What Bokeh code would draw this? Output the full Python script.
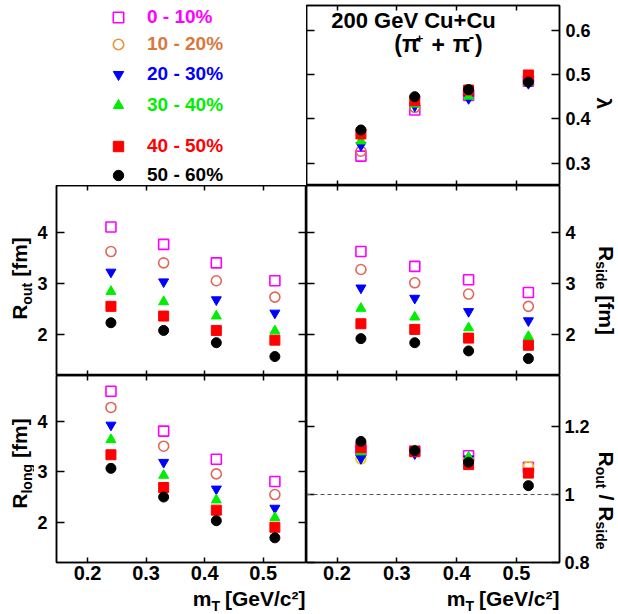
import math
from bokeh.plotting import figure
from bokeh.models import (Range1d, LinearAxis, FixedTicker, Label, Legend,
                          LegendItem, Span, CustomLabelingPolicy)
from bokeh.layouts import gridplot
from bokeh.embed import file_html
from bokeh.resources import INLINE

# ---------------- data ----------------
mt = [0.24, 0.33, 0.42, 0.52]
centrality = ["0 - 10%", "10 - 20%", "20 - 30%", "30 - 40%", "40 - 50%", "50 - 60%"]

lambda_0_10 = [0.316, 0.420, 0.453, 0.485]
lambda_10_20 = [0.327, 0.426, 0.455, 0.485]
lambda_20_30 = [0.340, 0.429, 0.446, 0.480]
lambda_30_40 = [0.350, 0.433, 0.451, 0.482]
lambda_40_50 = [0.366, 0.441, 0.465, 0.499]
lambda_50_60 = [0.375, 0.450, 0.466, 0.483]

rout_0_10 = [4.10, 3.76, 3.40, 3.05]
rout_10_20 = [3.62, 3.40, 3.05, 2.73]
rout_20_30 = [3.22, 3.03, 2.68, 2.42]
rout_30_40 = [2.84, 2.64, 2.36, 2.07]
rout_40_50 = [2.55, 2.36, 2.08, 1.89]
rout_50_60 = [2.23, 2.08, 1.84, 1.57]

rside_0_10 = [3.62, 3.33, 3.07, 2.82]
rside_10_20 = [3.27, 3.01, 2.79, 2.55]
rside_20_30 = [2.91, 2.71, 2.45, 2.27]
rside_30_40 = [2.51, 2.34, 2.13, 1.96]
rside_40_50 = [2.21, 2.10, 1.93, 1.79]
rside_50_60 = [1.92, 1.84, 1.68, 1.53]

rlong_0_10 = [4.60, 3.81, 3.25, 2.81]
rlong_10_20 = [4.28, 3.51, 2.96, 2.55]
rlong_20_30 = [3.93, 3.19, 2.66, 2.28]
rlong_30_40 = [3.64, 2.93, 2.44, 2.09]
rlong_40_50 = [3.34, 2.69, 2.24, 1.90]
rlong_50_60 = [3.07, 2.50, 2.03, 1.69]

ratio_0_10 = [1.130, 1.128, 1.114, 1.080]
ratio_10_20 = [1.105, 1.130, 1.100, 1.082]
ratio_20_30 = [1.106, 1.120, 1.105, 1.066]
ratio_30_40 = [1.125, 1.128, 1.110, 1.058]
ratio_40_50 = [1.138, 1.126, 1.088, 1.063]
ratio_50_60 = [1.156, 1.129, 1.095, 1.026]

x_ticks = [0.2, 0.3, 0.4, 0.5]
r_ticks = [2, 3, 4]
lambda_ticks = [0.3, 0.4, 0.5, 0.6]
ratio_ticks = [0.8, 1.0, 1.2]

lambda_series = [lambda_0_10, lambda_10_20, lambda_20_30, lambda_30_40, lambda_40_50, lambda_50_60]
rout_series = [rout_0_10, rout_10_20, rout_20_30, rout_30_40, rout_40_50, rout_50_60]
rside_series = [rside_0_10, rside_10_20, rside_20_30, rside_30_40, rside_40_50, rside_50_60]
rlong_series = [rlong_0_10, rlong_10_20, rlong_20_30, rlong_30_40, rlong_40_50, rlong_50_60]
ratio_series = [ratio_0_10, ratio_10_20, ratio_20_30, ratio_30_40, ratio_40_50, ratio_50_60]

# ---------------- styles ----------------
FONT = "Liberation Sans"
markers = ["square", "circle", "inverted_triangle", "triangle", "square", "circle"]
filled = [False, False, True, True, True, True]
colors = ["#ff00ff", "#e06858", "#0000ff", "#00ee00", "#ff0000", "#000000"]
ratio_colors = ["#ff00ff", "#e8d000", "#0000ff", "#00ee00", "#ff0000", "#000000"]
legend_marker_colors = ["#ff00ff", "#e8943c", "#0000ff", "#00ee00", "#ff0000", "#000000"]
legend_text_colors = ["#ff00ff", "#d8783c", "#0000ff", "#00ee00", "#ff0000", "#000000"]

CW = {'0': .556, '1': .556, '2': .556, '3': .556, '4': .556, '5': .556, '6': .556,
      '7': .556, '8': .556, '9': .556, '.': .278, ' ': .278, '-': .333, '%': .889,
      '[': .333, ']': .333, '/': .278, '(': .333, ')': .333, '+': .584, 'R': .722,
      'G': .778, 'V': .667, 'C': .722, 'T': .611, 'a': .556, 'c': .556, 'd': .611,
      'e': .556, 'f': .333, 'g': .611, 'i': .278, 'l': .278, 'm': .889, 'n': .611,
      'o': .611, 's': .556, 't': .333, 'u': .611, 'π': .58, 'λ': .56, '²': .333}


def text_w(s, size):
    return sum(CW.get(c, 0.6) for c in s) * size


def compose(p, pieces, x0, y0, angle, anchor="start", color="black"):
    """Lay text pieces along a baseline through (x0, y0).
    pieces: (text, font px, shift toward the text's 'down', gap before)."""
    total = sum(text_w(t, s) + g for t, s, _, g in pieces)
    pos = {"start": 0.0, "center": -total / 2, "end": -total}[anchor]
    ux, uy = math.cos(angle), math.sin(angle)
    dx, dy = math.sin(angle), -math.cos(angle)
    for t, s, sh, g in pieces:
        pos += g
        up = -0.35 * s          # middle of the caps sits above the baseline
        p.add_layout(Label(x=x0 + ux * pos + dx * (sh + up),
                           y=y0 + uy * pos + dy * (sh + up),
                           x_units="screen", y_units="screen", text=t, angle=angle,
                           text_font=FONT, text_font_size=f"{s}px",
                           text_font_style="bold", text_align="left",
                           text_baseline="middle", text_color=color))
        pos += text_w(t, s)


def add_axis(p, side, ticks, labels=False, size=18, standoff=6, tick_in=8,
             overrides=None):
    ax = LinearAxis(ticker=FixedTicker(ticks=ticks, minor_ticks=[]),
                    major_tick_in=tick_in, major_tick_out=0,
                    minor_tick_line_color=None, axis_line_width=1.5,
                    major_tick_line_width=1.5, major_label_text_font=FONT,
                    major_label_text_font_style="bold",
                    major_label_text_color="black")
    if labels:
        ax.major_label_text_font_size = f"{size}px"
        ax.major_label_standoff = standoff
    else:
        ax.major_label_text_font_size = "0px"
        ax.major_label_standoff = 0
        ax.major_label_policy = CustomLabelingPolicy(code="return new Set()")
    if overrides:
        ax.major_label_overrides = overrides
    p.add_layout(ax, side)
    return ax


def base(width, height, xr=(0, 1), yr=(0, 1), left=0, right=0, top=0, bottom=0,
         outline=None):
    p = figure(width=width, height=height, x_range=Range1d(*xr), y_range=Range1d(*yr),
               x_axis_location=None, y_axis_location=None, toolbar_location=None,
               output_backend="svg", min_border_left=left, min_border_right=right,
               min_border_top=top, min_border_bottom=bottom,
               outline_line_color=outline, outline_line_width=1.5,
               background_fill_color="white", border_fill_color="white")
    p.grid.visible = False
    return p


def draw(p, series, cols):
    for i, ys in enumerate(series):
        kw = dict(marker=markers[i], size=10, line_color=cols[i])
        if filled[i]:
            kw.update(fill_color=cols[i], line_width=1)
        else:
            kw.update(fill_color=None, line_width=1.6)
        p.scatter(mt, ys, **kw)


# grid geometry: 4 columns x 4 rows, borders kept equal along each row/column
W0, W1, W2, W3 = 34, 272, 287, 25
H0, H1, H2, H3 = 185, 190, 213, 25
BL, BR, BT, BB = 22, 33, 5, 26
XL = (0.147, 0.574)
XR = (0.149, 0.572)

# ---------------- legend panel (top-left) ----------------
A = base(W1, H0, left=BL, top=BT)
leg_bottoms = [155, 128, 98, 67, 26, -3]
for i, name in enumerate(centrality):
    kw = dict(marker=markers[i], size=10, line_color=legend_marker_colors[i])
    if filled[i]:
        kw.update(fill_color=legend_marker_colors[i], line_width=1)
    else:
        kw.update(fill_color=None, line_width=1.6)
    r = A.scatter(mt, lambda_series[i], visible=False, **kw)
    leg = Legend(items=[LegendItem(label=name, renderers=[r])],
                 location=(49, leg_bottoms[i]), glyph_width=26, glyph_height=26,
                 label_height=26, label_standoff=16, padding=0, margin=0, spacing=0,
                 border_line_color=None, background_fill_alpha=0,
                 inactive_fill_alpha=0, label_text_font=FONT,
                 label_text_font_size="19px", label_text_font_style="bold",
                 label_text_color=legend_text_colors[i])
    A.add_layout(leg)

# ---------------- lambda (top-right) ----------------
B = base(W2, H0, XR, (0.2497, 0.6557), right=BR, top=BT, outline="black")
add_axis(B, "below", x_ticks, tick_in=5)
add_axis(B, "above", x_ticks, tick_in=5)
add_axis(B, "left", lambda_ticks)
add_axis(B, "right", lambda_ticks, labels=True, size=18, standoff=6)
draw(B, lambda_series, colors)
compose(B, [("200 GeV Cu+Cu", 22, 0, 0)], 107, 157, 0, anchor="center")
compose(B, [("(π", 23, 0, 0), ("+", 13, -9, 0.5), ("+", 23, 0, 8),
            ("π", 23, 0, 8), ("-", 16, -11, 2.5), (")", 23, 0, 1)],
        132, 133, 0, anchor="center")

LB = base(W3, H0, top=BT)
compose(LB, [("λ", 21, 0, 0)], 4, 82, -math.pi / 2, anchor="center")

# ---------------- R_out (middle-left) ----------------
LC = base(W0, H1)
compose(LC, [("R", 21, 0, 0), ("out", 14, 5, 0), ("[fm]", 21, 0, 6)],
        26, 97, math.pi / 2, anchor="center")
C = base(W1, H1, XL, (1.2, 4.91), left=BL, outline="black")
add_axis(C, "below", x_ticks, tick_in=5)
add_axis(C, "above", x_ticks, tick_in=5)
add_axis(C, "right", r_ticks)
add_axis(C, "left", r_ticks, labels=True, size=18, standoff=9)
draw(C, rout_series, colors)

# ---------------- R_side (middle-right) ----------------
D = base(W2, H1, XR, (1.2, 4.91), right=BR, outline="black")
add_axis(D, "below", x_ticks, tick_in=5)
add_axis(D, "above", x_ticks, tick_in=5)
add_axis(D, "left", r_ticks)
add_axis(D, "right", r_ticks, labels=True, size=18, standoff=6)
draw(D, rside_series, colors)
LD = base(W3, H1)
compose(LD, [("R", 21, 0, 0), ("side", 14, 3.5, 0), ("[fm]", 21, 0, 6)],
        6, 85, -math.pi / 2, anchor="center")

# ---------------- R_long (bottom-left) ----------------
LE = base(W0, H2, bottom=BB)
compose(LE, [("R", 21, 0, 0), ("long", 14, 5, 0), ("[fm]", 21, 0, 6)],
        26, 99, math.pi / 2, anchor="center")
E = base(W1, H2, XL, (1.2, 4.914), left=BL, bottom=BB, outline="black")
add_axis(E, "above", x_ticks, tick_in=5)
add_axis(E, "right", r_ticks)
add_axis(E, "left", r_ticks, labels=True, size=18, standoff=9)
add_axis(E, "below", x_ticks, labels=True, size=20, standoff=3, tick_in=5)
draw(E, rlong_series, colors)

# ---------------- R_out / R_side (bottom-right) ----------------
F = base(W2, H2, XR, (0.8, 1.35), right=BR, bottom=BB, outline="black")
add_axis(F, "above", x_ticks, tick_in=5)
add_axis(F, "left", ratio_ticks)
add_axis(F, "right", ratio_ticks, labels=True, size=18, standoff=5,
         overrides={1.0: "1"})
add_axis(F, "below", x_ticks, labels=True, size=20, standoff=3, tick_in=5)
F.add_layout(Span(location=1.0, dimension="width", line_color="#555555",
                  line_width=1, line_dash="4 3"))
draw(F, ratio_series, ratio_colors)
LF = base(W3, H2, bottom=BB)
compose(LF, [("R", 21, 0, 0), ("out", 14, 3.5, 0), ("/", 21, 0, 6), ("R", 21, 0, 6),
             ("side", 14, 3.5, 0)], 6, 62, -math.pi / 2, anchor="center")

# ---------------- x-axis titles ----------------
XE = base(W1, H3, left=BL)
compose(XE, [("m", 21, 0, 0), ("T", 14, 5, 0), ("[GeV/c²]", 21, 0, 5)],
        249, 8, 0, anchor="end")
XF = base(W2, H3, right=BR)
compose(XF, [("m", 21, 0, 0), ("T", 14, 5, 0), ("[GeV/c²]", 21, 0, 5)],
        253, 8, 0, anchor="end")

grid = gridplot([[None, A, B, LB], [LC, C, D, LD], [LE, E, F, LF], [None, XE, XF, None]],
                toolbar_location=None)

open("out.html", "w").write(file_html(grid, INLINE))
